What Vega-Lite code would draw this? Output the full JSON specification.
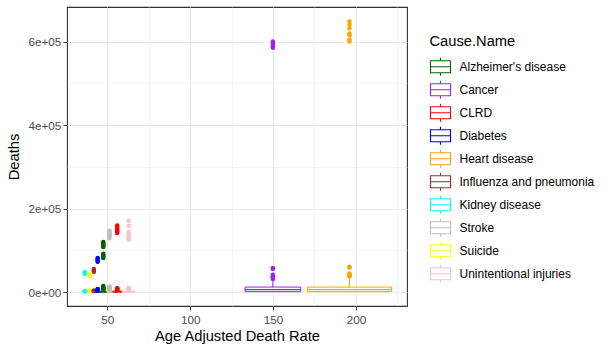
{
  "$schema": "https://vega.github.io/schema/vega-lite/v6.json",
  "width": 340,
  "height": 299,
  "autosize": {"type": "none"},
  "padding": {"left": 67, "top": 7, "right": 206, "bottom": 45},
  "background": "white",
  "config": {
    "view": {"stroke": "#333333", "strokeWidth": 1.1},
    "font": "Liberation Sans",
    "axis": {
      "domain": false,
      "gridColor": "#EBEBEB",
      "tickColor": "#333333",
      "tickSize": 4,
      "tickWidth": 1,
      "labelColor": "#4D4D4D",
      "labelFont": "Liberation Sans",
      "labelFontSize": 11.7,
      "titleFont": "Liberation Sans",
      "titleFontSize": 14.7,
      "titleFontWeight": "normal",
      "titleColor": "#000000"
    }
  },
  "datasets": {
    "boxes": [
      {"cause": "Kidney disease", "x": 36.4, "xmin": 35.2, "xmax": 37.6, "lower": 0, "q1": 150, "median": 400, "q3": 1000, "upper": 1800},
      {"cause": "Suicide", "x": 39.3, "xmin": 38.1, "xmax": 40.5, "lower": 0, "q1": 150, "median": 500, "q3": 900, "upper": 1700},
      {"cause": "Influenza and pneumonia", "x": 41.9, "xmin": 40.7, "xmax": 43.1, "lower": 0, "q1": 200, "median": 500, "q3": 1200, "upper": 2200},
      {"cause": "Diabetes", "x": 44.2, "xmin": 42.9, "xmax": 45.5, "lower": 0, "q1": 250, "median": 700, "q3": 1800, "upper": 3500},
      {"cause": "Alzheimer's disease", "x": 47.6, "xmin": 45.6, "xmax": 49.6, "lower": 0, "q1": 300, "median": 1000, "q3": 2200, "upper": 4800},
      {"cause": "Stroke", "x": 51.3, "xmin": 49.6, "xmax": 53.0, "lower": 0, "q1": 400, "median": 1300, "q3": 3000, "upper": 6000},
      {"cause": "CLRD", "x": 56.0, "xmin": 53.3, "xmax": 58.7, "lower": 0, "q1": 400, "median": 1400, "q3": 2800, "upper": 5500},
      {"cause": "Unintentional injuries", "x": 62.9, "xmin": 59.0, "xmax": 66.8, "lower": 0, "q1": 500, "median": 1500, "q3": 3000, "upper": 5500},
      {"cause": "Cancer", "x": 149.9, "xmin": 133.1, "xmax": 166.7, "lower": 100, "q1": 1500, "median": 6500, "q3": 12500, "upper": 28000},
      {"cause": "Heart disease", "x": 196.1, "xmin": 170.7, "xmax": 221.5, "lower": 100, "q1": 1500, "median": 6500, "q3": 12500, "upper": 32000}
    ],
    "outliers": [
      {"cause": "Kidney disease", "x": 36.4, "deaths": 3000},
      {"cause": "Kidney disease", "x": 36.4, "deaths": 2500},
      {"cause": "Kidney disease", "x": 36.4, "deaths": 2000},
      {"cause": "Kidney disease", "x": 36.4, "deaths": 48500},
      {"cause": "Kidney disease", "x": 36.4, "deaths": 47000},
      {"cause": "Kidney disease", "x": 36.4, "deaths": 45500},
      {"cause": "Kidney disease", "x": 36.4, "deaths": 44500},
      {"cause": "Suicide", "x": 39.3, "deaths": 4000},
      {"cause": "Suicide", "x": 39.3, "deaths": 3500},
      {"cause": "Suicide", "x": 39.3, "deaths": 3000},
      {"cause": "Suicide", "x": 39.3, "deaths": 2500},
      {"cause": "Suicide", "x": 39.3, "deaths": 43500},
      {"cause": "Suicide", "x": 39.3, "deaths": 42000},
      {"cause": "Suicide", "x": 39.3, "deaths": 41000},
      {"cause": "Suicide", "x": 39.3, "deaths": 39700},
      {"cause": "Influenza and pneumonia", "x": 41.9, "deaths": 4000},
      {"cause": "Influenza and pneumonia", "x": 41.9, "deaths": 3500},
      {"cause": "Influenza and pneumonia", "x": 41.9, "deaths": 3000},
      {"cause": "Influenza and pneumonia", "x": 41.9, "deaths": 55500},
      {"cause": "Influenza and pneumonia", "x": 41.9, "deaths": 53500},
      {"cause": "Influenza and pneumonia", "x": 41.9, "deaths": 51000},
      {"cause": "Influenza and pneumonia", "x": 41.9, "deaths": 49000},
      {"cause": "Diabetes", "x": 44.2, "deaths": 8000},
      {"cause": "Diabetes", "x": 44.2, "deaths": 7000},
      {"cause": "Diabetes", "x": 44.2, "deaths": 6000},
      {"cause": "Diabetes", "x": 44.2, "deaths": 5000},
      {"cause": "Diabetes", "x": 44.2, "deaths": 4500},
      {"cause": "Diabetes", "x": 44.2, "deaths": 82000},
      {"cause": "Diabetes", "x": 44.2, "deaths": 80000},
      {"cause": "Diabetes", "x": 44.2, "deaths": 78000},
      {"cause": "Diabetes", "x": 44.2, "deaths": 75500},
      {"cause": "Diabetes", "x": 44.2, "deaths": 73000},
      {"cause": "Alzheimer's disease", "x": 47.6, "deaths": 15000},
      {"cause": "Alzheimer's disease", "x": 47.6, "deaths": 13000},
      {"cause": "Alzheimer's disease", "x": 47.6, "deaths": 11000},
      {"cause": "Alzheimer's disease", "x": 47.6, "deaths": 9000},
      {"cause": "Alzheimer's disease", "x": 47.6, "deaths": 7000},
      {"cause": "Alzheimer's disease", "x": 47.6, "deaths": 5500},
      {"cause": "Alzheimer's disease", "x": 47.6, "deaths": 120500},
      {"cause": "Alzheimer's disease", "x": 47.6, "deaths": 118000},
      {"cause": "Alzheimer's disease", "x": 47.6, "deaths": 116000},
      {"cause": "Alzheimer's disease", "x": 47.6, "deaths": 113000},
      {"cause": "Alzheimer's disease", "x": 47.6, "deaths": 111000},
      {"cause": "Alzheimer's disease", "x": 47.6, "deaths": 108500},
      {"cause": "Alzheimer's disease", "x": 47.6, "deaths": 92500},
      {"cause": "Alzheimer's disease", "x": 47.6, "deaths": 90000},
      {"cause": "Alzheimer's disease", "x": 47.6, "deaths": 87000},
      {"cause": "Alzheimer's disease", "x": 47.6, "deaths": 84500},
      {"cause": "Alzheimer's disease", "x": 47.6, "deaths": 82000},
      {"cause": "Stroke", "x": 51.3, "deaths": 14000},
      {"cause": "Stroke", "x": 51.3, "deaths": 12500},
      {"cause": "Stroke", "x": 51.3, "deaths": 11000},
      {"cause": "Stroke", "x": 51.3, "deaths": 9500},
      {"cause": "Stroke", "x": 51.3, "deaths": 8000},
      {"cause": "Stroke", "x": 51.3, "deaths": 6500},
      {"cause": "Stroke", "x": 51.3, "deaths": 147000},
      {"cause": "Stroke", "x": 51.3, "deaths": 144000},
      {"cause": "Stroke", "x": 51.3, "deaths": 141000},
      {"cause": "Stroke", "x": 51.3, "deaths": 138000},
      {"cause": "Stroke", "x": 51.3, "deaths": 135000},
      {"cause": "Stroke", "x": 51.3, "deaths": 132000},
      {"cause": "Stroke", "x": 51.3, "deaths": 129000},
      {"cause": "CLRD", "x": 56.0, "deaths": 10000},
      {"cause": "CLRD", "x": 56.0, "deaths": 9000},
      {"cause": "CLRD", "x": 56.0, "deaths": 8000},
      {"cause": "CLRD", "x": 56.0, "deaths": 7000},
      {"cause": "CLRD", "x": 56.0, "deaths": 6000},
      {"cause": "CLRD", "x": 56.0, "deaths": 160000},
      {"cause": "CLRD", "x": 56.0, "deaths": 156000},
      {"cause": "CLRD", "x": 56.0, "deaths": 152000},
      {"cause": "CLRD", "x": 56.0, "deaths": 149000},
      {"cause": "CLRD", "x": 56.0, "deaths": 146000},
      {"cause": "CLRD", "x": 56.0, "deaths": 142000},
      {"cause": "Unintentional injuries", "x": 62.9, "deaths": 11000},
      {"cause": "Unintentional injuries", "x": 62.9, "deaths": 10000},
      {"cause": "Unintentional injuries", "x": 62.9, "deaths": 9000},
      {"cause": "Unintentional injuries", "x": 62.9, "deaths": 8000},
      {"cause": "Unintentional injuries", "x": 62.9, "deaths": 7000},
      {"cause": "Unintentional injuries", "x": 62.9, "deaths": 171000},
      {"cause": "Unintentional injuries", "x": 62.9, "deaths": 159000},
      {"cause": "Unintentional injuries", "x": 62.9, "deaths": 144000},
      {"cause": "Unintentional injuries", "x": 62.9, "deaths": 140000},
      {"cause": "Unintentional injuries", "x": 62.9, "deaths": 135000},
      {"cause": "Unintentional injuries", "x": 62.9, "deaths": 131000},
      {"cause": "Unintentional injuries", "x": 62.9, "deaths": 126000},
      {"cause": "Cancer", "x": 149.9, "deaths": 58000},
      {"cause": "Cancer", "x": 149.9, "deaths": 56000},
      {"cause": "Cancer", "x": 149.9, "deaths": 42000},
      {"cause": "Cancer", "x": 149.9, "deaths": 40000},
      {"cause": "Cancer", "x": 149.9, "deaths": 38000},
      {"cause": "Cancer", "x": 149.9, "deaths": 36000},
      {"cause": "Cancer", "x": 149.9, "deaths": 34000},
      {"cause": "Cancer", "x": 149.9, "deaths": 32000},
      {"cause": "Cancer", "x": 149.9, "deaths": 600000},
      {"cause": "Cancer", "x": 149.9, "deaths": 596000},
      {"cause": "Cancer", "x": 149.9, "deaths": 592000},
      {"cause": "Cancer", "x": 149.9, "deaths": 588000},
      {"cause": "Cancer", "x": 149.9, "deaths": 585000},
      {"cause": "Heart disease", "x": 196.1, "deaths": 61000},
      {"cause": "Heart disease", "x": 196.1, "deaths": 59000},
      {"cause": "Heart disease", "x": 196.1, "deaths": 45000},
      {"cause": "Heart disease", "x": 196.1, "deaths": 43000},
      {"cause": "Heart disease", "x": 196.1, "deaths": 41000},
      {"cause": "Heart disease", "x": 196.1, "deaths": 39000},
      {"cause": "Heart disease", "x": 196.1, "deaths": 38000},
      {"cause": "Heart disease", "x": 196.1, "deaths": 648000},
      {"cause": "Heart disease", "x": 196.1, "deaths": 640000},
      {"cause": "Heart disease", "x": 196.1, "deaths": 632000},
      {"cause": "Heart disease", "x": 196.1, "deaths": 619000},
      {"cause": "Heart disease", "x": 196.1, "deaths": 615000},
      {"cause": "Heart disease", "x": 196.1, "deaths": 604000},
      {"cause": "Heart disease", "x": 196.1, "deaths": 600000}
    ]
  },
  "layer": [
    {
      "data": {"name": "outliers"},
      "mark": {"type": "point", "filled": true, "size": 20, "opacity": 1, "strokeWidth": 0},
      "encoding": {
        "x": {"field": "x", "type": "quantitative", "scale": {"domain": [25.7, 230.8], "nice": false, "zero": false},
          "title": "Age Adjusted Death Rate",
          "axis": {
            "values": [25, 50, 75, 100, 125, 150, 175, 200, 225],
            "labelExpr": "datum.value % 50 === 0 ? datum.label : ''",
            "tickOpacity": {"condition": {"test": "datum.value % 50 === 0", "value": 1}, "value": 0},
            "gridWidth": {"condition": {"test": "datum.value % 50 === 0", "value": 1.1}, "value": 0.55},
            "labelPadding": 4.5,
            "titlePadding": 2
          }},
        "y": {"field": "deaths", "type": "quantitative", "scale": {"domain": [-32800, 682600], "nice": false, "zero": false},
          "title": "Deaths",
          "axis": {
            "values": [0, 100000, 200000, 300000, 400000, 500000, 600000],
            "labelExpr": "datum.value % 200000 === 0 ? replace(format(datum.value, '.0e'), 'e+', 'e+0') : ''",
            "tickOpacity": {"condition": {"test": "datum.value % 200000 === 0", "value": 1}, "value": 0},
            "gridWidth": {"condition": {"test": "datum.value % 200000 === 0", "value": 1.1}, "value": 0.55},
            "labelPadding": 2.2,
            "titlePadding": 6
          }},
        "fill": {"field": "cause", "type": "nominal",
          "scale": {
            "domain": ["Unintentional injuries", "Suicide", "Stroke", "Kidney disease", "Influenza and pneumonia", "Heart disease", "Diabetes", "CLRD", "Cancer", "Alzheimer's disease"],
            "range": ["#FFC0CB", "#FFFF00", "#BEBEBE", "#00FFFF", "#A52A2A", "#FFA500", "#0000FF", "#FF0000", "#A020F0", "#006400"]
          },
          "legend": null}
      }
    },
    {
      "data": {"name": "boxes"},
      "mark": {"type": "rule", "strokeWidth": 1},
      "encoding": {
        "x": {"field": "x", "type": "quantitative"},
        "y": {"field": "q3", "type": "quantitative"},
        "y2": {"field": "upper"},
        "color": {"field": "cause", "type": "nominal",
          "scale": {
            "domain": ["Alzheimer's disease", "Cancer", "CLRD", "Diabetes", "Heart disease", "Influenza and pneumonia", "Kidney disease", "Stroke", "Suicide", "Unintentional injuries"],
            "range": ["#006400", "#A020F0", "#FF0000", "#0000FF", "#FFA500", "#A52A2A", "#00FFFF", "#BEBEBE", "#FFFF00", "#FFC0CB"]
          },
          "title": "Cause.Name",
          "legend": {
            "orient": "none",
            "legendX": 362.5,
            "legendY": 26.5,
            "padding": 0,
            "titleFont": "Liberation Sans",
            "titleFontSize": 14.7,
            "titleFontWeight": "normal",
            "titleColor": "#000000",
            "titleBaseline": "top",
            "titlePadding": 7.5,
            "labelFont": "Liberation Sans",
            "labelFontSize": 12,
            "labelColor": "#000000",
            "labelOffset": 8,
            "rowPadding": -1.3,
            "symbolSize": 400,
            "symbolType": "M-1,-0.6L1,-0.6L1,0.6L-1,0.6Z M-1,0L1,0 M0,-0.6L0,-0.9 M0,0.6L0,0.9",
            "symbolStrokeWidth": 1.1,
            "symbolOpacity": 1,
            "symbolFillColor": "white"
          }}
      }
    },
    {
      "data": {"name": "boxes"},
      "mark": {"type": "rule", "strokeWidth": 1},
      "encoding": {
        "x": {"field": "x", "type": "quantitative"},
        "y": {"field": "lower", "type": "quantitative"},
        "y2": {"field": "q1"},
        "color": {"field": "cause", "type": "nominal"}
      }
    },
    {
      "data": {"name": "boxes"},
      "mark": {"type": "rect", "filled": false, "fill": "white", "strokeWidth": 1},
      "encoding": {
        "x": {"field": "xmin", "type": "quantitative"},
        "x2": {"field": "xmax"},
        "y": {"field": "q1", "type": "quantitative"},
        "y2": {"field": "q3"},
        "color": {"field": "cause", "type": "nominal"}
      }
    },
    {
      "data": {"name": "boxes"},
      "mark": {"type": "rule", "strokeWidth": 1.3},
      "encoding": {
        "x": {"field": "xmin", "type": "quantitative"},
        "x2": {"field": "xmax"},
        "y": {"field": "median", "type": "quantitative"},
        "color": {"field": "cause", "type": "nominal"}
      }
    }
  ]
}
